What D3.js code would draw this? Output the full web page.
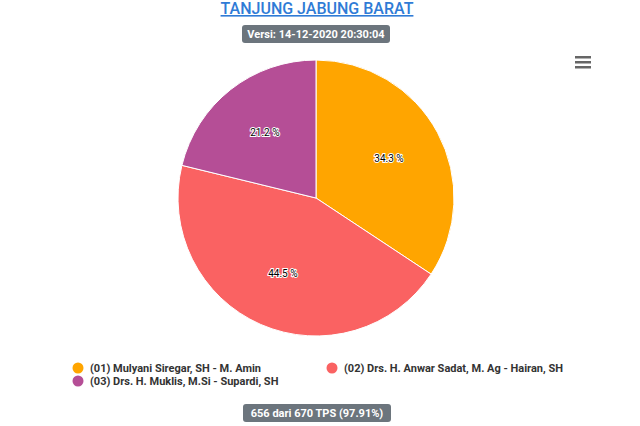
<!DOCTYPE html>
<html><head><meta charset="utf-8">
<script src="https://cdn.jsdelivr.net/npm/d3@7"></script>
<style>body{margin:0;background:#fff;font-family:Roboto,"Open Sans",sans-serif;}</style>
</head><body>
<svg id="chart" width="640" height="426"></svg>
<script>
// chart values
const candidates = ["(01) Mulyani Siregar, SH - M. Amin", "(02) Drs. H. Anwar Sadat, M. Ag - Hairan, SH", "(03) Drs. H. Muklis, M.Si - Supardi, SH"];
const shares = [34.3, 44.5, 21.2];
const colors = ["#FFA500", "#FA6262", "#B54E96"];

const svg = d3.select("#chart");

// title
svg.append("text").attr("x", 317).attr("y", 14).attr("text-anchor", "middle")
  .attr("font-size", 16).attr("font-weight", 500).attr("fill", "#2f7bd6")
  .attr("text-decoration", "underline").text("TANJUNG JABUNG BARAT");

function badge(cx, cy, w, txt) {
  svg.append("rect").attr("x", cx - w / 2).attr("y", cy - 9).attr("width", w).attr("height", 18)
    .attr("rx", 3).attr("fill", "#6c757d");
  svg.append("text").attr("x", cx).attr("y", cy + 4).attr("text-anchor", "middle")
    .attr("font-size", 11).attr("font-weight", 700).attr("fill", "#fff").text(txt);
}
badge(316, 34, 148, "Versi: 14-12-2020 20:30:04");
badge(317, 413, 148, "656 dari 670 TPS (97.91%)");

// hamburger menu
[0, 5, 10].forEach(d => svg.append("rect").attr("x", 575).attr("y", 56 + d).attr("width", 16)
  .attr("height", 2.5).attr("fill", "#666"));

// pie
const cx = 316, cy = 198, r = 138;
const pie = d3.pie().sort(null)(shares);
const arc = d3.arc().innerRadius(0).outerRadius(r);
const labelArc = d3.arc().innerRadius(r * 0.6).outerRadius(r * 0.6);
const g = svg.append("g").attr("transform", `translate(${cx},${cy})`);
g.selectAll("path").data(pie).join("path").attr("d", arc)
  .attr("fill", (d, i) => colors[i]).attr("stroke", "#fff").attr("stroke-width", 1);
g.selectAll("text").data(pie).join("text")
  .attr("transform", d => `translate(${labelArc.centroid(d)})`)
  .attr("text-anchor", "middle").attr("dy", "0.35em")
  .attr("font-size", 10).attr("fill", "#000")
  .attr("stroke", "#fff").attr("stroke-width", 2).attr("paint-order", "stroke")
  .text(d => d.data.toFixed(1) + " %");

// legend
const legendPos = [[78, 368], [332, 368], [78, 381]];
candidates.forEach((c, i) => {
  const [x, y] = legendPos[i];
  svg.append("circle").attr("cx", x).attr("cy", y).attr("r", 5.5).attr("fill", colors[i]);
  svg.append("text").attr("x", x + 12).attr("y", y + 4).attr("font-size", 11)
    .attr("font-weight", 700).attr("fill", "#333").text(c);
});
</script>
</body></html>
